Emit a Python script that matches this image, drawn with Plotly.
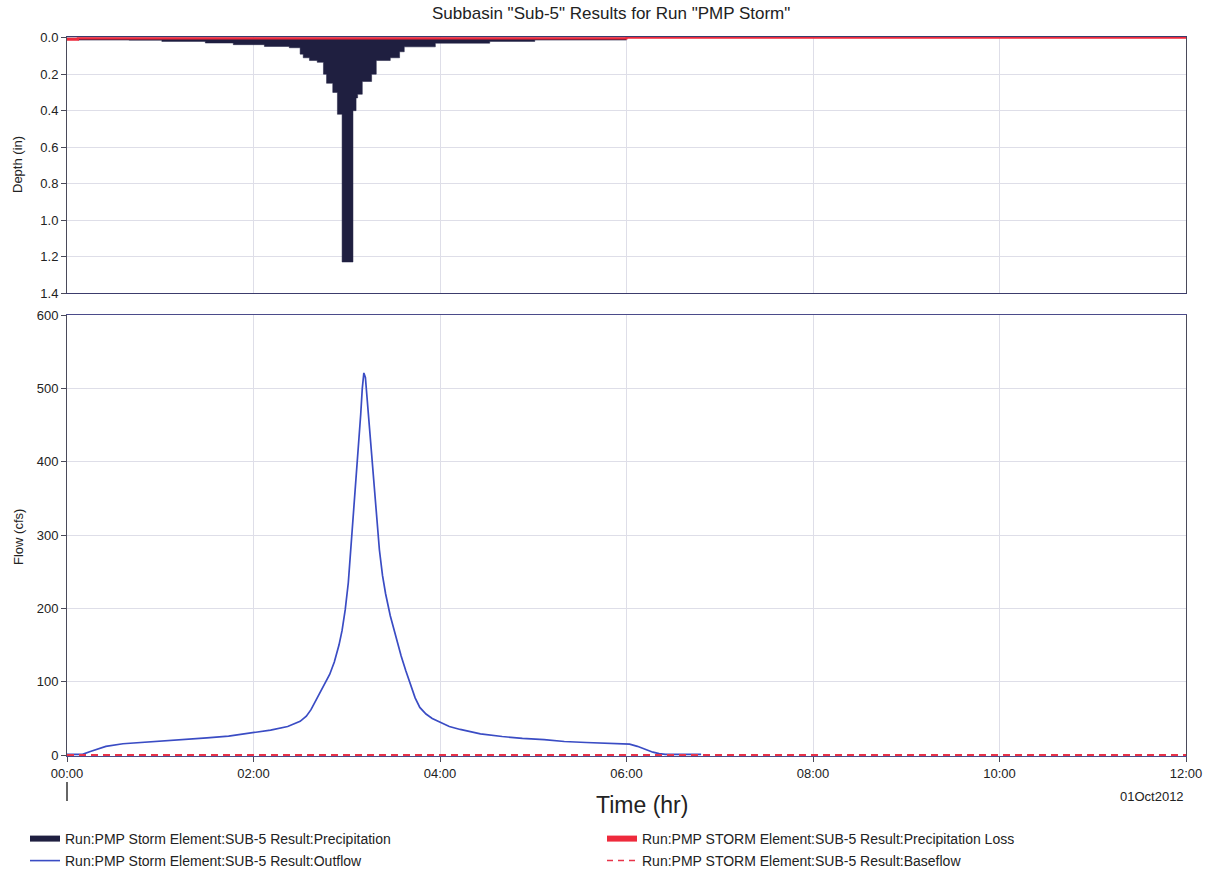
import pandas as pd
import plotly.graph_objects as go
from plotly.subplots import make_subplots

START = pd.Timestamp("2012-10-01 00:00")
END = pd.Timestamp("2012-10-01 12:00")

# Precipitation hyetograph: block start (elapsed minutes) and depth (in); storm ends at 360 min
precip_start_min = [0, 7, 40, 61, 89, 107, 127, 143, 150, 152,
                    156, 161, 165, 167, 171, 174, 177, 184, 186, 187,
                    190, 196, 199, 208, 214, 217, 237, 272, 301]
precip_depth_in = [0.010, 0.013, 0.014, 0.020, 0.029, 0.038, 0.048, 0.055, 0.090, 0.110,
                   0.125, 0.135, 0.200, 0.250, 0.300, 0.420, 1.230, 0.400, 0.330, 0.310,
                   0.240, 0.200, 0.125, 0.110, 0.077, 0.050, 0.030, 0.020, 0.013]
precip_end_min = 360

# Precipitation loss (in): step breakpoints (elapsed minutes)
loss_min = [0, 7, 360, 720]
loss_in = [0.010, 0.003, 0.0, 0.0]

# Outflow hydrograph: elapsed minutes and flow (cfs)
outflow_min = [
    0, 10, 15, 20, 25, 36, 50, 63, 77, 90,
    104, 117, 131, 142, 150, 154, 157, 161, 165, 169,
    172, 175, 177, 179, 181, 183, 185, 187, 189, 190,
    191, 192, 193, 195, 197, 199, 201, 203, 205, 208,
    212, 215, 218, 221, 224, 227, 231, 235, 240, 246,
    253, 260, 266, 280, 293, 307, 320, 334, 347, 357,
    362, 367, 372, 377, 381, 385, 408,
]
outflow_cfs = [
    1, 1, 5, 9, 12, 15.5, 17.5, 19.5, 21, 23.5,
    26, 29.5, 34, 39, 46, 53, 62, 78, 93, 110,
    127, 150, 170, 198, 235, 290, 350, 405, 465, 500,
    521, 515, 490, 440, 385, 330, 280, 245, 220, 190,
    158, 135, 115, 95, 78, 65, 56, 50, 44.5, 39,
    35, 31.5, 29, 25.4, 22.7, 21, 18.6, 17.2, 16.3, 16,
    15, 12, 8, 4, 2, 1, 1,
]

# Baseflow (cfs)
baseflow_min = [0, 720]
baseflow_cfs = [0, 0]

NAME_P = "Run:PMP Storm Element:SUB-5 Result:Precipitation"
NAME_L = "Run:PMP STORM Element:SUB-5 Result:Precipitation Loss"
NAME_Q = "Run:PMP Storm Element:SUB-5 Result:Outflow"
NAME_B = "Run:PMP STORM Element:SUB-5 Result:Baseflow"

C_PRECIP = "#1f1f40"
C_LOSS = "#ee2a3c"
C_FLOW = "#3a4cc4"
C_BASE = "#e8344a"
GRID = "#dedee8"
AXIS = "#4a4a5a"
FONT = "Liberation Sans, Arial, sans-serif"


def at(minutes):
    return [START + pd.Timedelta(minutes=m) for m in minutes]


fig = make_subplots(rows=2, cols=1, shared_xaxes=True)

# hyetograph as a filled step profile hanging from the top of the reversed axis
fig.add_trace(go.Scatter(
    x=at(precip_start_min + [precip_end_min]),
    y=precip_depth_in + [precip_depth_in[-1]],
    mode="lines", line=dict(color=C_PRECIP, width=0.5, shape="hv"),
    fill="tozeroy", fillcolor=C_PRECIP,
    name=NAME_P, showlegend=False,
), row=1, col=1)

fig.add_trace(go.Scatter(
    x=at(loss_min), y=loss_in, mode="lines",
    line=dict(color=C_LOSS, width=2.2, shape="hv"),
    fill="tozeroy", fillcolor=C_LOSS,
    name=NAME_L, showlegend=False,
), row=1, col=1)

fig.add_trace(go.Scatter(
    x=at(outflow_min), y=outflow_cfs,
    mode="lines", line=dict(color=C_FLOW, width=1.7),
    name=NAME_Q, showlegend=False,
), row=2, col=1)

fig.add_trace(go.Scatter(
    x=at(baseflow_min), y=baseflow_cfs, mode="lines",
    line=dict(color=C_BASE, width=2, dash="7px,5px"),
    name=NAME_B, showlegend=False,
), row=2, col=1)

# Legend entries: two rows, each its own legend box
legend_items = [
    (NAME_P, dict(color=C_PRECIP, width=6), "legend"),
    (NAME_L, dict(color=C_LOSS, width=6), "legend"),
    (NAME_Q, dict(color=C_FLOW, width=1.6), "legend2"),
    (NAME_B, dict(color=C_BASE, width=1.5, dash="6px,5px"), "legend2"),
]
for nm, ln, lg in legend_items:
    fig.add_trace(go.Scatter(x=[None], y=[None], mode="lines", line=ln, name=nm,
                             showlegend=True, legend=lg), row=2, col=1)

two_hours = 2 * 3600 * 1000
xcommon = dict(
    type="date", range=[START, END], dtick=two_hours, tick0=START,
    showgrid=True, gridcolor=GRID, gridwidth=1,
    showline=True, mirror=True, layer="below traces", zeroline=False,
)
fig.update_xaxes(**xcommon, showticklabels=False, ticks="", linecolor="#3c3c6c",
                 row=1, col=1)
fig.update_xaxes(**xcommon, tickformat="%H:%M", ticks="outside", ticklen=5,
                 tickcolor=AXIS, linecolor="#4b4b8a",
                 tickfont=dict(family=FONT, size=13, color="#222"), row=2, col=1)

# a hair of headroom past zero keeps the zero-valued series lines unclipped
fig.update_yaxes(range=[1.4, -0.004], tick0=0, dtick=0.2, tickformat=".1f", ticks="outside",
                 ticklen=5, tickcolor=AXIS, showgrid=True, gridcolor=GRID,
                 showline=True, linecolor=AXIS, mirror=True, zeroline=False,
                 tickfont=dict(family=FONT, size=13, color="#222"), row=1, col=1)
fig.update_yaxes(range=[-1.2, 600], tick0=0, dtick=100, ticks="outside", ticklen=5,
                 tickcolor=AXIS, showgrid=True, gridcolor=GRID,
                 showline=True, linecolor=AXIS, mirror=True, zeroline=False,
                 tickfont=dict(family=FONT, size=13, color="#222"), row=2, col=1)

L, R, T, B = 67, 28, 37, 117
H = 873 - T - B
W = 1214 - L - R
legend_common = dict(
    orientation="h", xanchor="left", yanchor="top", entrywidth=532,
    traceorder="normal", font=dict(family=FONT, size=14, color="#222"),
    bgcolor="rgba(0,0,0,0)",
)
fig.update_layout(
    width=1214, height=873,
    margin=dict(l=L, r=R, t=T, b=B, pad=0, autoexpand=False),
    paper_bgcolor="white", plot_bgcolor="white",
    font=dict(family=FONT, color="#222"),
    xaxis=dict(domain=[0, 1]),
    xaxis2=dict(domain=[0, 1]),
    yaxis=dict(domain=[(756 - 293) / H, 1]),
    yaxis2=dict(domain=[0, (756 - 315) / H]),
    legend=dict(**legend_common, x=(25 - L) / W, y=-(823 - 756) / H),
    legend2=dict(**legend_common, x=(25 - L) / W, y=-(845 - 756) / H),
)

fig.add_annotation(text='Subbasin "Sub-5" Results for Run "PMP Storm"',
                   xref="paper", yref="paper", x=(611 - L) / W, y=(756 - 14) / H,
                   xanchor="center", yanchor="middle", showarrow=False,
                   font=dict(family=FONT, size=17, color="#222"))
fig.add_annotation(text="Depth (in)", textangle=-90,
                   xref="paper", yref="paper", x=(18 - L) / W, y=(756 - 165) / H,
                   xanchor="center", yanchor="middle", showarrow=False,
                   font=dict(family=FONT, size=13, color="#222"))
fig.add_annotation(text="Flow (cfs)", textangle=-90,
                   xref="paper", yref="paper", x=(18 - L) / W, y=(756 - 537) / H,
                   xanchor="center", yanchor="middle", showarrow=False,
                   font=dict(family=FONT, size=13, color="#222"))
fig.add_annotation(text="Time (hr)",
                   xref="paper", yref="paper", x=(642 - L) / W, y=(756 - 805) / H,
                   xanchor="center", yanchor="middle", showarrow=False,
                   font=dict(family=FONT, size=23, color="#222"))
fig.add_annotation(text="01Oct2012",
                   xref="paper", yref="paper", x=1.0, y=(756 - 796) / H,
                   xanchor="right", yanchor="middle", showarrow=False,
                   font=dict(family=FONT, size=13, color="#222"))
# Day marker below the first tick
fig.add_shape(type="line", xref="paper", yref="paper",
              x0=0, x1=0, y0=(756 - 782) / H, y1=(756 - 801) / H,
              line=dict(color="#333", width=1.5))

fig.write_html("out.html")
